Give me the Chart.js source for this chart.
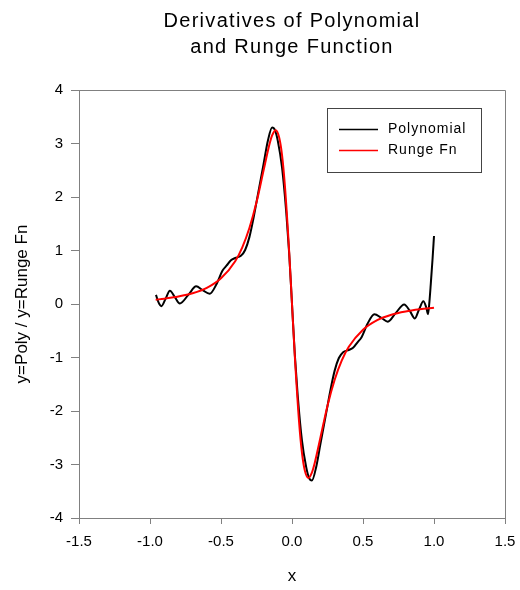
<!DOCTYPE html>
<html lang="en">
<head>
    <meta charset="UTF-8">
    <title>Derivatives of Polynomial and Runge Function</title>
    <script src="https://cdn.jsdelivr.net/npm/chart.js"></script>
    <style>
        body { margin: 0; background: #fff; }
    </style>
</head>
<body>
    <canvas id="myChart" width="520" height="590"></canvas>

    <script>
        // values
        const polyX = [-0.958, -0.94, -0.92, -0.89, -0.86, -0.825, -0.79, -0.73, -0.675, -0.63, -0.58, -0.53,
            -0.49, -0.46, -0.43, -0.40, -0.36, -0.33, -0.30, -0.27, -0.24, -0.20, -0.17, -0.14, -0.12, -0.10,
            -0.07, -0.04, -0.02, 0, 0.02, 0.04, 0.07, 0.10, 0.12, 0.14, 0.17, 0.20, 0.24, 0.27, 0.30, 0.33,
            0.36, 0.40, 0.43, 0.46, 0.49, 0.53, 0.58, 0.63, 0.675, 0.73, 0.79, 0.83, 0.865, 0.895, 0.925,
            0.945, 0.958, 0.968, 0.978, 0.99, 1.0];
        const polyY = [0.17, 0.03, -0.04, 0.10, 0.25, 0.13, 0.01, 0.17, 0.33, 0.26, 0.19, 0.38,
            0.62, 0.72, 0.82, 0.86, 0.90, 1.01, 1.25, 1.62, 2.05, 2.62, 3.05, 3.30, 3.25, 3.05,
            2.55, 1.70, 0.95, 0, -0.95, -1.70, -2.55, -3.05, -3.25, -3.30, -3.05, -2.62, -2.05, -1.62, -1.25, -1.01,
            -0.90, -0.86, -0.82, -0.72, -0.62, -0.38, -0.19, -0.26, -0.33, -0.17, -0.01, -0.13, -0.27, -0.10, 0.05,
            -0.06, -0.19, 0.05, 0.40, 0.85, 1.27];

        const rungeX = [-0.96, -0.9, -0.8, -0.7, -0.6, -0.5, -0.4, -0.35, -0.3, -0.25, -0.2, -0.16, -0.14,
            -0.115, -0.09, -0.07, -0.05, -0.02, 0, 0.02, 0.05, 0.07, 0.09, 0.115, 0.14, 0.16, 0.2, 0.25,
            0.3, 0.35, 0.4, 0.5, 0.6, 0.7, 0.8, 0.9, 1.0];
        const rungeY = [0.08, 0.10, 0.14, 0.20, 0.30, 0.48, 0.80, 1.06, 1.42, 1.90, 2.50, 2.97, 3.15,
            3.25, 3.11, 2.78, 2.21, 0.98, 0, -0.98, -2.21, -2.78, -3.11, -3.25, -3.15, -2.97, -2.50, -1.90,
            -1.42, -1.06, -0.80, -0.48, -0.30, -0.20, -0.14, -0.10, -0.07];

        const xTicks = [-1.5, -1.0, -0.5, 0.0, 0.5, 1.0, 1.5];
        const yTicks = [-4, -3, -2, -1, 0, 1, 2, 3, 4];
        const titleLines = ['Derivatives of Polynomial', 'and Runge Function'];

        const FONT = '"Liberation Sans", Arial, sans-serif';
        const AXIS = '#808080';

        // title, frame and legend box drawn by hand (SigmaPlot look)
        const decor = {
            id: 'decor',
            afterDraw(chart) {
                const ctx = chart.ctx;
                const a = chart.chartArea;
                ctx.save();
                ctx.strokeStyle = AXIS;
                ctx.lineWidth = 1;
                ctx.beginPath();
                ctx.moveTo(a.left, a.top + 0.5);
                ctx.lineTo(a.right + 0.5, a.top + 0.5);
                ctx.lineTo(a.right + 0.5, a.bottom);
                ctx.stroke();

                ctx.fillStyle = '#000';
                ctx.textAlign = 'center';
                ctx.textBaseline = 'alphabetic';
                ctx.font = '20px ' + FONT;
                ctx.letterSpacing = '1.3px';
                const cx = (a.left + a.right) / 2;
                ctx.fillText(titleLines[0], cx, 27);
                ctx.fillText(titleLines[1], cx, 53);

                // legend
                ctx.strokeStyle = '#444';
                ctx.strokeRect(327.5, 108.5, 154, 64);
                ctx.font = '14px ' + FONT;
                ctx.letterSpacing = '1px';
                ctx.textAlign = 'left';
                ctx.textBaseline = 'middle';
                const rows = [129.5, 150.5];
                chart.data.datasets.forEach((ds, i) => {
                    ctx.strokeStyle = ds.borderColor;
                    ctx.lineWidth = 1.5;
                    ctx.beginPath();
                    ctx.moveTo(339, rows[i]);
                    ctx.lineTo(378, rows[i]);
                    ctx.stroke();
                    ctx.fillText(ds.label, 388, rows[i]);
                });
                ctx.restore();
            }
        };

        const ctx = document.getElementById('myChart').getContext('2d');
        const chart = new Chart(ctx, {
            type: 'line',
            data: {
                datasets: [
                    {
                        label: 'Polynomial',
                        data: polyX.map((x, i) => ({ x: x, y: polyY[i] })),
                        borderColor: '#000000',
                        borderWidth: 2,
                        pointRadius: 0,
                        cubicInterpolationMode: 'monotone',
                        order: 1
                    },
                    {
                        label: 'Runge Fn',
                        data: rungeX.map((x, i) => ({ x: x, y: rungeY[i] })),
                        borderColor: '#ff0000',
                        borderWidth: 2,
                        pointRadius: 0,
                        cubicInterpolationMode: 'monotone',
                        order: 0
                    }
                ]
            },
            options: {
                responsive: false,
                animation: false,
                layout: { padding: { left: 0, right: 15, top: 90, bottom: 0 } },
                plugins: {
                    legend: { display: false },
                    title: { display: false },
                    tooltip: { enabled: false }
                },
                scales: {
                    x: {
                        type: 'linear',
                        min: -1.5,
                        max: 1.5,
                        afterBuildTicks: s => { s.ticks = xTicks.map(v => ({ value: v })); },
                        afterFit: s => {
                            s.height = 72;
                            s.paddingLeft = 0;
                            s.paddingRight = 0;
                        },
                        border: { color: AXIS, width: 1 },
                        grid: { drawOnChartArea: false, color: AXIS, tickLength: 6 },
                        ticks: {
                            color: '#000',
                            padding: 9,
                            maxRotation: 0,
                            font: { family: FONT, size: 15 },
                            callback: v => v.toFixed(1)
                        },
                        title: {
                            display: true,
                            text: 'x',
                            color: '#000',
                            font: { family: FONT, size: 17 },
                            padding: { top: 0, bottom: 3 }
                        }
                    },
                    y: {
                        min: -4,
                        max: 4,
                        afterBuildTicks: s => { s.ticks = yTicks.map(v => ({ value: v })); },
                        afterFit: s => {
                            s.width = 79;
                            s.paddingTop = 0;
                            s.paddingBottom = 0;
                        },
                        border: { color: AXIS, width: 1 },
                        grid: { drawOnChartArea: false, color: AXIS, tickLength: 8 },
                        ticks: {
                            color: '#000',
                            padding: 8,
                            font: { family: FONT, size: 15 },
                            callback: v => String(v)
                        },
                        title: {
                            display: true,
                            text: 'y=Poly / y=Runge Fn',
                            color: '#000',
                            font: { family: FONT, size: 17 },
                            padding: { top: 12, bottom: 0 }
                        }
                    }
                }
            },
            plugins: [decor]
        });
    </script>
</body>
</html>
